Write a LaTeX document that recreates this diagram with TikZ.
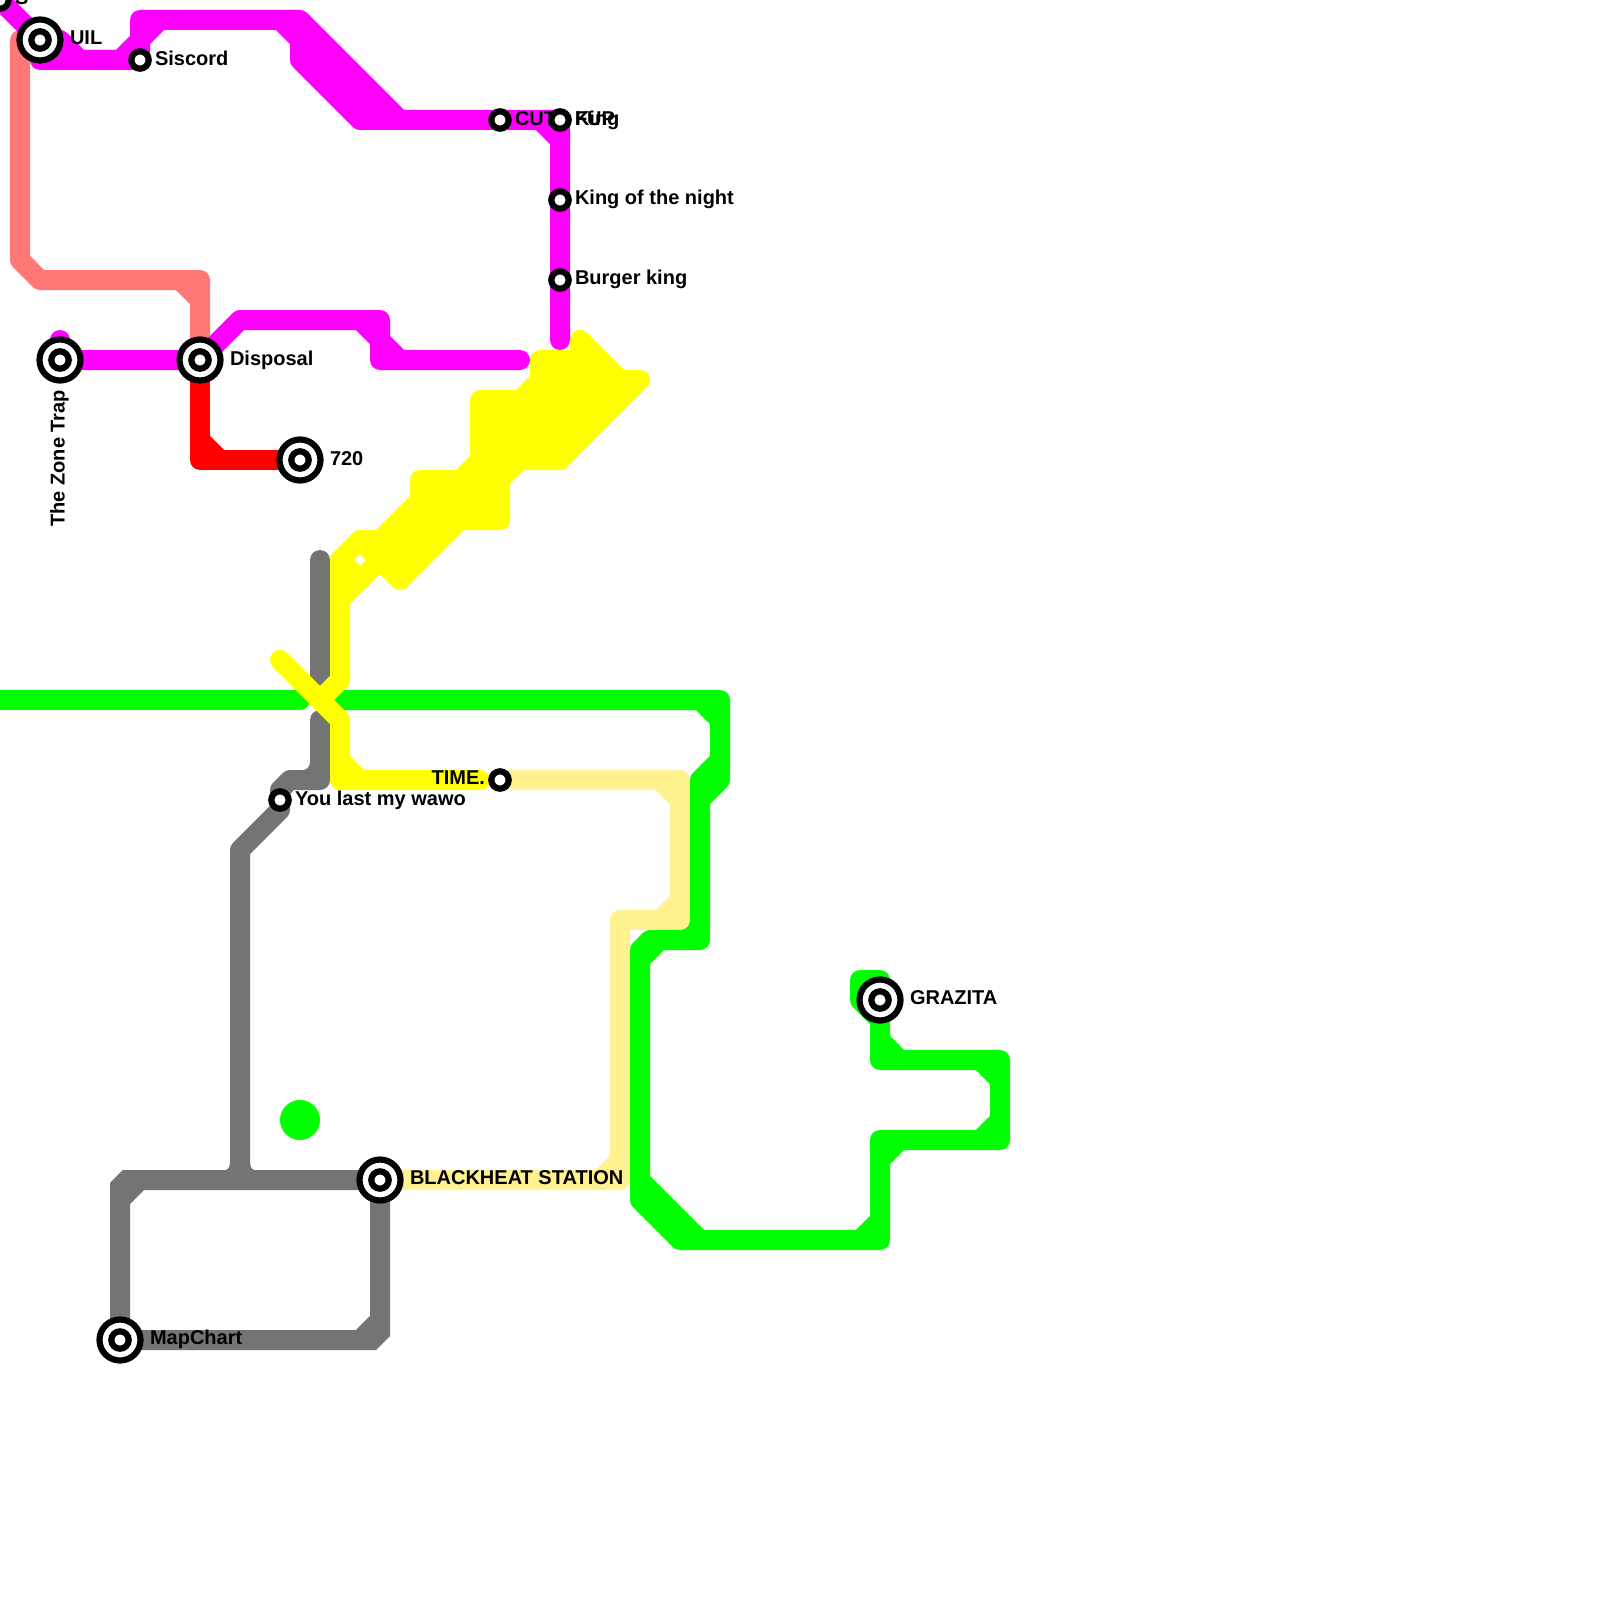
\documentclass[tikz,border=0pt]{standalone}
\usepackage{fontspec}
\setmainfont{Liberation Sans}
\definecolor{cmag}{HTML}{FF00FF}
\definecolor{csal}{HTML}{FF7777}
\definecolor{cred}{HTML}{FF0000}
\definecolor{cyel}{HTML}{FFFF00}
\definecolor{cpal}{HTML}{FFF18F}
\definecolor{cgrn}{HTML}{00FF00}
\definecolor{cgry}{HTML}{737573}
\tikzset{
  route/.style={line width=20pt,line cap=round,line join=round},
  bigring/.style={circle,draw=black,fill=white,line width=6.2pt,minimum size=41pt,inner sep=0pt,outer sep=0pt},
  midring/.style={circle,draw=black,fill=white,line width=6.2pt,minimum size=17.4pt,inner sep=0pt,outer sep=0pt},
  smallring/.style={midring},
  lab/.style={font=\fontsize{20}{24}\selectfont\bfseries,inner sep=0pt,outer sep=0pt,text=black},
}
\newcommand{\bigstn}[1]{\node[bigring] (st-#1) at (c-#1) {};\node[midring] (st-#1-core) at (c-#1) {};}
\newcommand{\smallstn}[1]{\node[smallring] (st-#1) at (c-#1) {};}
\begin{document}
\begin{tikzpicture}[x=1pt,y=-1pt]
\useasboundingbox (0,0) rectangle (1600,1600);
\fill[white] (0,0) rectangle (1600,1600);
% station positions
\coordinate (c-top) at (0,0);
\coordinate (c-uil) at (40,40);
\coordinate (c-sis) at (140,60);
\coordinate (c-cut) at (500,120);
\coordinate (c-rng) at (560,120);
\coordinate (c-kon) at (560,200);
\coordinate (c-bur) at (560,280);
\coordinate (c-zon) at (60,360);
\coordinate (c-dis) at (200,360);
\coordinate (c-sev) at (300,460);
\coordinate (c-you) at (280,800);
\coordinate (c-tim) at (500,780);
\coordinate (c-blk) at (380,1180);
\coordinate (c-map) at (120,1340);
\coordinate (c-gra) at (880,1000);
% salmon
\draw[route,csal] (20,40) -- (20,260) -- (40,280) -- (200,280) -- (c-dis);
\draw[route,csal] (180,280) -- (200,300);
% grey
\draw[route,cgry] (320,560) -- (320,680);
\draw[route,cgry] (320,720) -- (320,780) -- (290,780) -- (280,790) -- (c-you) -- (280,810) -- (240,850) -- (240,1180);
\fill[cgry] (300,771) .. controls (306,770) and (310,768) .. (310,762) -- (322,762) -- (322,771) -- cycle;
\draw[route,cgry,line join=miter] (c-map) -- (120,1187) -- (127,1180) -- (c-blk) -- (380,1332) -- (372,1340) -- cycle;
\draw[route,cgry] (120,1200) -- (140,1180);
\draw[route,cgry] (360,1340) -- (380,1320);
\fill[cgry] (222,1171) .. controls (228,1170) and (230,1168) .. (230,1162) -- (250,1162) .. controls (250,1168) and (252,1170) .. (258,1171) -- cycle;
% green
\draw[route,cgrn] (0,700) -- (300,700);
\draw[route,cgrn] (340,700) -- (720,700) -- (720,780) -- (700,800) -- (700,940) -- (650,940) -- (640,950) -- (640,1200) -- (680,1240) -- (880,1240) -- (880,1140) -- (1000,1140) -- (1000,1060) -- (880,1060) -- (c-gra) -- (880,980) -- (860,980) -- (860,1000) -- (880,1020);
\draw[route,cgrn] (700,700) -- (720,720);
\draw[route,cgrn] (720,760) -- (700,780) -- (700,800);
\fill[cgrn] (690,918) -- (692,932) -- (678,932) -- cycle;
\draw[route,cgrn] (660,940) -- (640,960);
\draw[route,cgrn] (640,1180) -- (700,1240);
\draw[route,cgrn] (640,1190) -- (690,1240);
\draw[route,cgrn] (860,1240) -- (880,1220);
\draw[route,cgrn] (880,1160) -- (900,1140);
\draw[route,cgrn] (980,1140) -- (1000,1120);
\draw[route,cgrn] (980,1060) -- (1000,1080);
\draw[route,cgrn] (880,1040) -- (900,1060);
\fill[cgrn] (300,1120) circle (20);
% pale yellow
\draw[route,cpal] (c-blk) -- (620,1180) -- (620,920) -- (680,920) -- (680,780) -- (c-tim);
\draw[route,cpal] (600,1180) -- (620,1160);
\draw[route,cpal] (660,920) -- (680,900);
\draw[route,cpal] (660,780) -- (680,800);
% yellow
\filldraw[route,cyel] (580,340) -- (620,380) -- (640,380) -- (560,460) -- (520,460) -- (500,480) -- (500,520) -- (460,520) -- (400,580) -- (360,540) -- (380,540) -- (420,500) -- (420,480) -- (460,480) -- (480,460) -- (480,400) -- (520,400) -- (540,380) -- (540,360) -- (580,360) -- cycle;
\draw[route,cyel] (360,540) -- (340,560) -- (360,580);
\draw[route,cyel] (380,560) -- (340,600);
\draw[route,cyel] (340,560) -- (340,680) -- (320,700);
\draw[route,cyel] (280,660) -- (340,720) -- (340,780) -- (480,780);
\draw[route,cyel] (340,760) -- (360,780);
% magenta
\draw[route,cmag] (c-top) -- (c-uil) -- (60,40) -- (80,60) -- (120,60) -- (140,40) -- (140,20) -- (300,20) -- (400,120) -- (c-cut) -- (c-rng) -- (c-kon) -- (c-bur) -- (560,340);
\draw[route,cmag] (c-uil) -- (40,60) -- (c-sis) -- (140,40) -- (160,20);
\draw[route,cmag] (280,20) -- (380,120);
\draw[route,cmag] (300,40) -- (300,60) -- (360,120) -- (400,120);
\draw[route,cmag] (540,120) -- (560,140);
\draw[route,cmag] (60,340) -- (c-zon) -- (c-dis) -- (240,320) -- (380,320) -- (380,360) -- (520,360);
\draw[route,cmag] (360,320) -- (380,340) -- (400,360);
% red
\draw[route,cred] (c-dis) -- (200,460) -- (c-sev);
\draw[route,cred] (200,440) -- (220,460);
% stations
\smallstn{top}
\smallstn{sis}
\smallstn{cut}
\smallstn{rng}
\smallstn{kon}
\smallstn{bur}
\smallstn{you}
\smallstn{tim}
\bigstn{uil}
\bigstn{zon}
\bigstn{dis}
\bigstn{sev}
\bigstn{blk}
\bigstn{map}
\bigstn{gra}
% labels
\node[lab,anchor=base west] (l-top) at (15,5) {S};
\node[lab,anchor=base west] (l-uil) at (70,45) {UIL};
\node[lab,anchor=base west] (l-sis) at (155,65.5) {Siscord};
\node[lab,anchor=base west] (l-cut) at (515,125) {CUT};
\node[lab,anchor=base west] (l-fup) at (575,125) {FUP};
\node[lab,anchor=base west] (l-rng) at (575,125) {King};
\node[lab,anchor=base west] (l-kon) at (575,204.2) {King of the night};
\node[lab,anchor=base west] (l-bur) at (575,284.2) {Burger king};
\node[lab,anchor=base west] (l-dis) at (230,365) {Disposal};
\node[lab,anchor=base west] (l-sev) at (330,465) {720};
\node[lab,anchor=base east,rotate=90] (l-zon) at (64.5,390) {The Zone Trap};
\node[lab,anchor=base west] (l-you) at (295,805) {You last my wawo};
\node[lab,anchor=base east] (l-tim) at (485,784.5) {TIME.};
\node[lab,anchor=base west] (l-blk) at (410,1184.3) {BLACKHEAT STATION};
\node[lab,anchor=base west] (l-map) at (150,1344.5) {MapChart};
\node[lab,anchor=base west] (l-gra) at (910,1004.5) {GRAZITA};
\end{tikzpicture}
\end{document}
